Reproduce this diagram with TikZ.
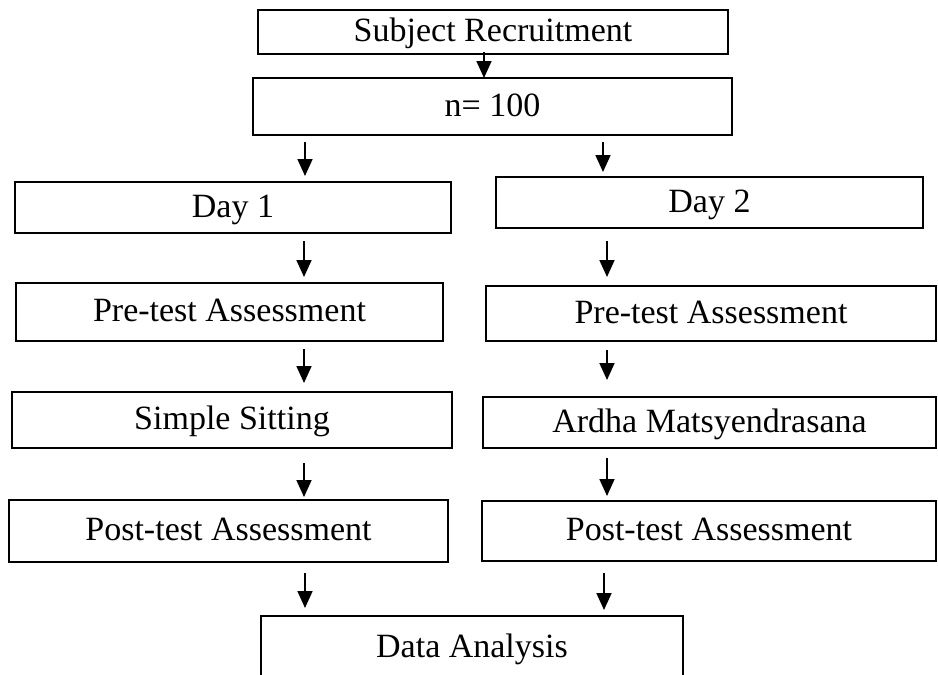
\documentclass[tikz,border=0pt]{standalone}
\usepackage{fontspec}
\setmainfont{Liberation Serif}
\usetikzlibrary{arrows.meta}
\begin{document}
\begin{tikzpicture}[x=1pt,y=-1pt,
  box/.style={draw, line width=1.8pt, inner sep=0pt, outer sep=0pt, align=center,
    font=\fontsize{34pt}{40pt}\selectfont, text height=22pt, text depth=3pt},
  arr/.style={line width=1.8pt, -{Triangle[length=17pt,width=15pt]}}]
\useasboundingbox (0,0) rectangle (938,675);
\clip (0,0) rectangle (938,675);
\coordinate (cL) at (304,0);
\coordinate (cR) at (607,0);
\node[box, minimum width=470pt, minimum height=44pt] (sr) at (493,32) {Subject Recruitment};
\node[box, minimum width=479pt, minimum height=57pt] (n) at (492.5,106.5) {n= 100};
\node[box, minimum width=436pt, minimum height=51pt] (d1) at (233,207.5) {Day 1};
\node[box, minimum width=427pt, minimum height=51pt] (d2) at (709.5,202.5) {Day 2};
\node[box, minimum width=427pt, minimum height=58pt] (pre1) at (229.5,312) {Pre-test Assessment};
\node[box, minimum width=450pt, minimum height=55pt] (pre2) at (711,313.5) {Pre-test Assessment};
\node[box, minimum width=440pt, minimum height=56pt] (ss) at (232,420) {Simple Sitting};
\node[box, minimum width=453pt, minimum height=51pt] (am) at (709.5,422.5) {Ardha Matsyendrasana};
\node[box, minimum width=439pt, minimum height=62pt] (post1) at (228.5,531) {Post-test Assessment};
\node[box, minimum width=454pt, minimum height=60pt] (post2) at (709,531) {Post-test Assessment};
\node[box, minimum width=422pt, minimum height=110pt, text height=0pt, text depth=0pt] (da) at (472,671) {};
\node[font=\fontsize{34pt}{40pt}\selectfont, anchor=base] (dat) at (472,657) {Data Analysis};
\coordinate (cM) at (484,0);
\draw[arr, shorten <=-2pt] (sr.south -| cM) -- (n.north -| cM);
\coordinate (cL2) at (305,0);
\coordinate (cR2) at (603,0);
\draw[arr, shorten <=7pt, shorten >=6pt] (n.south -| cL2) -- (d1.north -| cL2);
\draw[arr, shorten <=7pt, shorten >=5pt] (n.south -| cR2) -- (d2.north -| cR2);
\draw[arr, shorten <=8pt, shorten >=6pt] (d1.south -| cL) -- (pre1.north -| cL);
\draw[arr, shorten <=13pt, shorten >=9pt] (d2.south -| cR) -- (pre2.north -| cR);
\draw[arr, shorten <=8pt, shorten >=9pt] (pre1.south -| cL) -- (ss.north -| cL);
\draw[arr, shorten <=9pt, shorten >=17pt] (pre2.south -| cR) -- (am.north -| cR);
\draw[arr, shorten <=15pt, shorten >=3pt] (ss.south -| cL) -- (post1.north -| cL);
\draw[arr, shorten <=10pt, shorten >=5pt] (am.south -| cR) -- (post2.north -| cR);
\coordinate (cR3) at (604,0);
\draw[arr, shorten <=11pt, shorten >=8pt] (post1.south -| cL2) -- (da.north -| cL2);
\draw[arr, shorten <=12pt, shorten >=6pt] (post2.south -| cR3) -- (da.north -| cR3);
\end{tikzpicture}
\end{document}
